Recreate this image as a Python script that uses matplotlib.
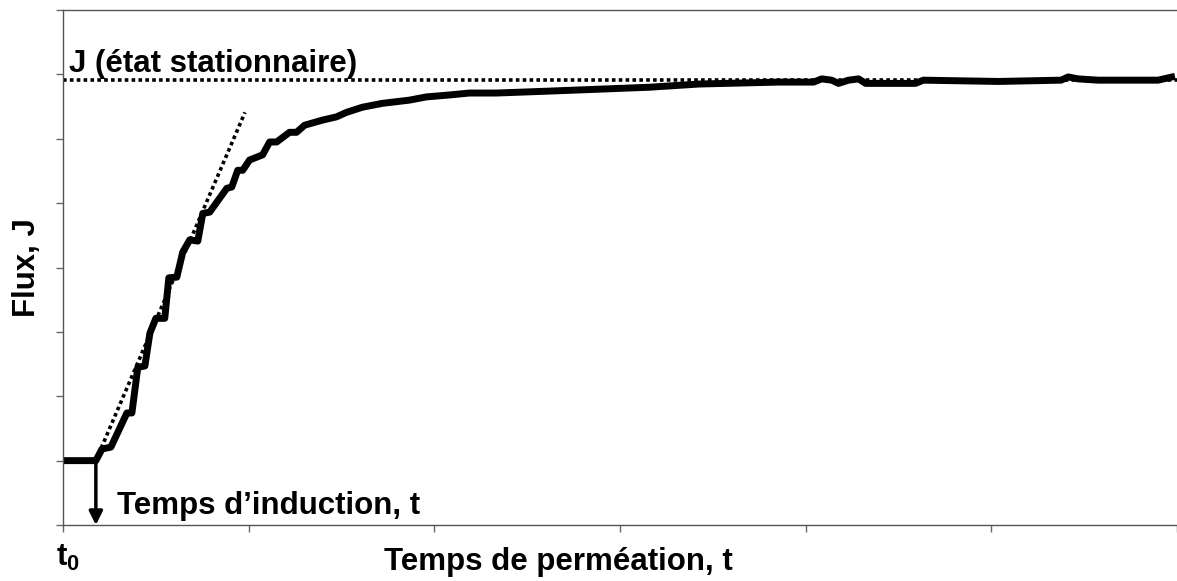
import matplotlib
matplotlib.use("Agg")
import matplotlib.pyplot as plt

plt.rcParams["font.family"] = ["Liberation Sans", "DejaVu Sans"]
plt.rcParams["mathtext.fontset"] = "custom"
plt.rcParams["mathtext.bf"] = "Liberation Sans:bold"
plt.rcParams["mathtext.rm"] = "Liberation Sans:bold"

# permeation curve (arbitrary units)
time_t = [0, 0.177, 0.210, 0.258, 0.344, 0.371, 0.403, 0.441, 0.468, 0.500,
          0.548, 0.570, 0.613, 0.645, 0.683, 0.726, 0.753, 0.790, 0.882, 0.909,
          0.941, 0.968, 1.005, 1.075, 1.113, 1.151, 1.220, 1.258, 1.301, 1.398,
          1.473, 1.527, 1.613, 1.720, 1.866, 1.957, 2.081, 2.188, 2.333, 2.618,
          2.887, 3.156, 3.425, 3.855, 4.043, 4.086, 4.140, 4.177, 4.231, 4.285,
          4.323, 4.591, 4.634, 5.038, 5.376, 5.414, 5.468, 5.575, 5.898, 5.989]
flux = [1.0, 1.0, 1.18, 1.21, 1.74, 1.74, 2.45, 2.47, 2.98, 3.21,
        3.21, 3.84, 3.85, 4.24, 4.43, 4.41, 4.84, 4.86, 5.23, 5.25,
        5.51, 5.51, 5.67, 5.75, 5.95, 5.95, 6.10, 6.10, 6.21, 6.29,
        6.34, 6.41, 6.49, 6.55, 6.60, 6.65, 6.68, 6.71, 6.71, 6.74,
        6.77, 6.80, 6.85, 6.88, 6.88, 6.93, 6.91, 6.86, 6.91, 6.93,
        6.86, 6.86, 6.91, 6.89, 6.91, 6.96, 6.93, 6.91, 6.91, 6.97]

J_ss = 6.91
t_ind = 0.177
tangent_t = [0.177, 0.98]
tangent_J = [1.0, 6.41]

fig = plt.figure(figsize=(11.77, 5.81), dpi=100)
ax = fig.add_axes([63 / 1177, 56 / 581, 1 - 63 / 1177, 515 / 581])
ax.set_xlim(0, 6)
ax.set_ylim(0, 8)

ax.plot([0, 6], [J_ss, J_ss], color="black", lw=2.6, ls=(0, (1, 0.9)))
ax.plot(tangent_t, tangent_J, color="black", lw=2.6, ls=(0, (1, 0.9)))
ax.plot(time_t, flux, color="black", lw=5, solid_joinstyle="round",
        solid_capstyle="butt")

ax.annotate("", xy=(t_ind, 0), xytext=(t_ind, 1.0),
            arrowprops=dict(arrowstyle="-|>,head_length=0.8,head_width=0.4",
                            color="black", lw=2.5, shrinkA=0, shrinkB=0))

ax.text(0.03, 7.03, "J (état stationnaire)", fontsize=22.5, fontweight="bold",
        va="baseline", ha="left")
ax.text(0.29, 0.17, "Temps d\u2019induction, t", fontsize=22.5, fontweight="bold",
        va="baseline", ha="left")

ax.set_xticks(range(0, 7))
ax.set_yticks(range(0, 9))
ax.set_xticklabels([])
ax.set_yticklabels([])
ax.tick_params(direction="out", length=5, color="#666666", width=1)
for s in ["left", "bottom", "top"]:
    ax.spines[s].set_color("#555555")
    ax.spines[s].set_linewidth(1)
ax.spines["right"].set_visible(False)

fig.text(27 / 1177, 1 - 268 / 581, "Flux, J", rotation=90, fontsize=22.5,
         fontweight="bold", ha="center", va="center")
fig.text(558 / 1177, 1 - 562 / 581, "Temps de perméation, t", fontsize=22.5,
         fontweight="bold", ha="center", va="center")
fig.text(68 / 1177, 1 - 558 / 581, r"$\mathbf{t_0}$", fontsize=22.5,
         ha="center", va="center")

fig.savefig("out.png", dpi=100)
